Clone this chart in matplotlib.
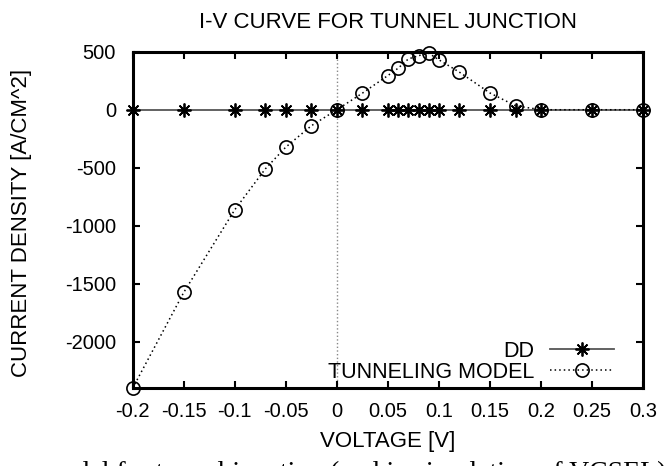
import matplotlib
matplotlib.use("Agg")
import matplotlib.pyplot as plt

# voltage points (same grid for both runs)
voltage = [-0.2, -0.15, -0.1, -0.07, -0.05, -0.025, 0.0, 0.025, 0.05, 0.06,
           0.07, 0.08, 0.09, 0.1, 0.12, 0.15, 0.175, 0.2, 0.25, 0.3]
# drift-diffusion: no current through the junction
dd_current = [0] * len(voltage)
# tunneling model
tunnel_current = [-2400, -1575, -862, -509, -322, -138, 0, 143, 295, 358,
                  438, 466, 487, 430, 324, 144, 34, 0, 0, 0]

xticks = [-0.2, -0.15, -0.1, -0.05, 0, 0.05, 0.1, 0.15, 0.2, 0.25, 0.3]
xtick_labels = ["-0.2", "-0.15", "-0.1", "-0.05", "0", "0.05", "0.1", "0.15", "0.2", "0.25", "0.3"]
yticks = [500, 0, -500, -1000, -1500, -2000]

plt.rcParams["font.family"] = ["Liberation Sans", "DejaVu Sans"]
plt.rcParams["font.size"] = 14
plt.rcParams["axes.unicode_minus"] = False

fig = plt.figure(figsize=(6.7, 4.66), dpi=100)
ax = fig.add_axes([0.198, 0.167, 0.762, 0.722])

# gnuplot style zero axis
ax.axvline(0, color="#888888", linestyle=":", linewidth=1.0, zorder=1)

star = (8, 2, 0)
ax.plot(voltage, dd_current, color="#555555", linewidth=1.3, marker=star,
        markersize=10, markeredgecolor="black", markeredgewidth=1.3,
        label="DD", zorder=3, clip_on=False)
ax.plot(voltage, tunnel_current, color="black", linestyle=(0, (1, 2)), linewidth=1.1,
        marker="o", markersize=9.5, markerfacecolor="none",
        markeredgecolor="black", markeredgewidth=1.2,
        label="TUNNELING MODEL", zorder=4, clip_on=False)

ax.set_xlim(-0.2, 0.3)
ax.set_ylim(-2400, 500)
ax.set_xticks(xticks)
ax.set_xticklabels(xtick_labels)
ax.set_yticks(yticks)

ax.tick_params(direction="in", length=5, width=1.5, top=True, right=True,
               labelsize=14.5)
ax.tick_params(axis="x", pad=10)
ax.tick_params(axis="y", pad=12)
for s in ax.spines.values():
    s.set_linewidth(2.2)

fig.text(388 / 670, 1 - 22 / 466, "I-V CURVE FOR TUNNEL JUNCTION", fontsize=16,
         ha="center", va="center")
ax.set_xlabel("VOLTAGE [V]", fontsize=16, labelpad=7)
ax.set_ylabel("CURRENT DENSITY [A/CM^2]", fontsize=16)
ax.yaxis.set_label_coords(-0.197, 0.49)

ax.legend(loc="lower right", bbox_to_anchor=(0.96, -0.01), frameon=False,
          markerfirst=False, handlelength=3.0, handletextpad=0.7,
          labelspacing=0.02, fontsize=15.5, borderaxespad=0.0)

# caption of the source page, cut at the lower edge
fig.text(0.06, -0.03, "model for tunnel junction (and in simulation of VCSEL)",
         family="Liberation Serif", fontsize=20, ha="left", va="baseline")

fig.savefig("out.png", dpi=100)
